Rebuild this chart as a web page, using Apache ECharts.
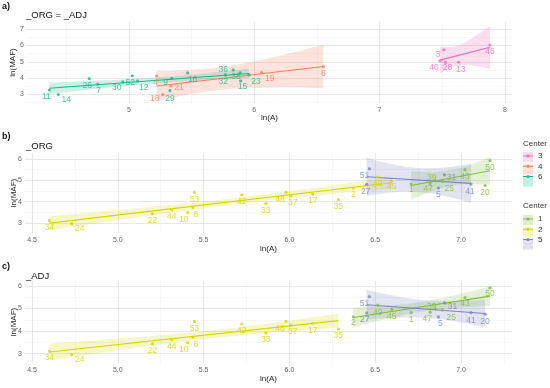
<!DOCTYPE html>
<html><head><meta charset="utf-8">
<script src="https://cdn.jsdelivr.net/npm/echarts@6/dist/echarts.min.js"></script>
<style>html,body{margin:0;padding:0;background:#fff}#c{width:550px;height:388px}</style>
</head><body><div id="c"></div>
<script>
// ---------------- data ----------------
// panel a) : sites whose Center is the same in _ORG and _ADJ
const idsA    = [11,14,26,7,30,52,12,9,29,16,36,32,38,15,23, 4,18,21,19,6, 3,40,28,13,46];
const lnA_A   = [4.364,4.436,4.683,4.750,4.950,5.026,5.069,5.341,5.327,5.468,5.832,5.769,5.886,5.891,5.958,
                 5.221,5.269,5.335,6.059,6.551, 7.514,7.482,7.526,7.631,7.881];
const lnMAF_A = [3.26,2.98,3.96,3.62,3.76,4.14,3.82,3.98,3.22,4.31,4.50,4.19,4.31,3.82,4.19,
                 4.13,2.98,3.51,4.33,4.70, 5.73,5.05,4.96,4.97,6.03];
const centerA = [6,6,6,6,6,6,6,6,6,6,6,6,6,6,6, 4,4,4,4,4, 3,3,3,3,3];

// panels b) and c) : sites whose Center differs between _ORG and _ADJ
const idsBC    = [34,24,22,44,10,8,53,42,33,48,37,17,35,2,49,45, 27,51,1,47,39,5,25,31,43,41,20,50];
const lnA_BC   = [4.601,4.731,5.201,5.314,5.407,5.437,5.446,5.722,5.862,5.980,6.008,6.136,6.285,6.372,6.515,6.596,
                  6.450,6.466,6.709,6.820,6.852,6.868,6.891,6.903,7.023,7.058,7.140,7.169];
const lnMAF_BC = [3.12,2.97,3.43,3.62,3.49,3.73,4.43,4.32,3.92,4.43,4.27,4.35,4.09,4.63,5.15,4.97,
                  4.81,5.53,4.82,4.84,4.97,4.63,4.94,5.25,5.49,4.82,4.75,5.92];
const centerORG = [2,2,2,2,2,2,2,2,2,2,2,2,2,2,2,2, 5,5,1,1,1,5,1,5,1,5,1,1];
const centerADJ = [2,2,2,2,2,2,2,2,2,2,2,2,2,1,1,1, 5,5,1,1,1,5,1,5,1,5,5,1];

// axis ticks
const xTicksA = [5,6,7,8],            xMinorA = [4.5,5.5,6.5,7.5];
const yTicksA = [3,4,5,6,7],          yMinorA = [2.5,3.5,4.5,5.5,6.5];
const xTicksBC = [4.5,5.0,5.5,6.0,6.5,7.0], xMinorBC = [4.75,5.25,5.75,6.25,6.75,7.25];
const yTicksBC = [3,4,5,6],           yMinorBC = [3.5,4.5,5.5];

const legendTop = ['3','4','6'];
const legendBottom = ['1','2','5'];

// ---------------- styling ----------------
const COLORS = {1:'#82BD3C',2:'#D6D600',3:'#EC6EB4',4:'#F8805C',5:'#7986C2',6:'#1CB98D'};
function rgba(hex,a){const n=parseInt(hex.slice(1),16);return `rgba(${n>>16},${(n>>8)&255},${n&255},${a})`;}
const FONT = 'Liberation Sans, Arial, sans-serif';

// label offsets (layout only)
const offA = {11:[-3,7],14:[8,5],26:[-2,7],7:[1,6],30:[-6,6],52:[-2,7],12:[6,7],9:[-6,4],29:[0,8],16:[5,7],
  36:[-10,0],32:[-2,7],38:[-4,4],15:[2,6],23:[7,7],4:[-1,7],18:[-8,4],21:[8,2],19:[8,6],6:[0,7],
  3:[-6,5],40:[-6,7],28:[2,5],13:[2,7],46:[0,7]};
const offB = {24:[8,5],10:[-4,7],8:[3,7],48:[-6,7],37:[2,7],27:[-1,7],51:[-5,7],47:[-2,5],39:[-4,-3],
  25:[7,7],31:[7,3],41:[-1,8],1:[0,6],45:[0,6]};
const offC = {24:[8,5],10:[-4,7],8:[3,7],48:[-6,7],37:[2,7],27:[-2,7],51:[-5,7],47:[-3,6],39:[-4,-3],
  25:[9,8],31:[8,4],41:[0,8],5:[2,7],2:[0,6],43:[0,6],50:[0,6]};

const T975 = [NaN,12.706,4.303,3.182,2.776,2.571,2.447,2.365,2.306,2.262,2.228,2.201,2.179,2.160,2.145,2.131,2.120,2.110,2.101,2.093,2.086];
function lmFit(xs, ys){
  const n = xs.length;
  const mx = xs.reduce((a,b)=>a+b,0)/n, my = ys.reduce((a,b)=>a+b,0)/n;
  let sxx=0,sxy=0; for(let i=0;i<n;i++){sxx+=(xs[i]-mx)**2; sxy+=(xs[i]-mx)*(ys[i]-my);}
  const b = sxy/sxx, a = my-b*mx;
  let sse=0; for(let i=0;i<n;i++){sse+=(ys[i]-a-b*xs[i])**2;}
  const s = Math.sqrt(sse/(n-2)), t = T975[n-2];
  const x0 = Math.min(...xs), x1 = Math.max(...xs);
  const band=[];
  for(let k=0;k<=60;k++){
    const x = x0+(x1-x0)*k/60, yh=a+b*x, se=s*Math.sqrt(1/n+(x-mx)**2/sxx);
    band.push([x, yh-t*se, yh+t*se]);
  }
  return {line:[[x0,a+b*x0],[x1,a+b*x1]], band};
}

const grids = [
  {left:27, top:22, width:485, height:81, outerBoundsMode:'none', containLabel:false},
  {left:25, top:153, width:487, height:80, outerBoundsMode:'none', containLabel:false},
  {left:25, top:281, width:487, height:82, outerBoundsMode:'none', containLabel:false}
];
const xRange = [[4.186,8.057],[4.459,7.297],[4.459,7.297]];
const yRange = [[2.46,7.45],[2.533,6.27],[2.59,6.22]];
const xTicks = [xTicksA, xTicksBC, xTicksBC], xMinor=[xMinorA,xMinorBC,xMinorBC];
const yTicks = [yTicksA, yTicksBC, yTicksBC], yMinor=[yMinorA,yMinorBC,yMinorBC];

const xAxis = [], yAxis = [];
for(let g=0; g<3; g++){
  xAxis.push({type:'value', gridIndex:g, min:xRange[g][0], max:xRange[g][1],
    name:'ln(A)', nameLocation:'middle', nameGap: g===0?11:12, nameMoveOverlap:false,
    nameTextStyle:{fontFamily:FONT,fontSize:8,color:'#222'},
    axisLine:{show:false}, axisTick:{show:false}, splitLine:{show:false},
    axisLabel:{customValues:xTicks[g], margin:4, fontFamily:FONT, fontSize:7, color:'#666',
      formatter: v => g===0 ? String(Math.round(v)) : v.toFixed(1)}});
  yAxis.push({type:'value', gridIndex:g, min:yRange[g][0], max:yRange[g][1],
    name:'ln(MAF)', nameLocation:'middle', nameGap: g===0?10:7, nameMoveOverlap:false,
    nameTextStyle:{fontFamily:FONT,fontSize:8,color:'#222'},
    axisLine:{show:false}, axisTick:{show:false}, splitLine:{show:false},
    axisLabel:{customValues:yTicks[g], margin:3, fontFamily:FONT, fontSize:7, color:'#666',
      formatter: v => String(Math.round(v))}});
}

const lineSeries=[], bandSeries=[], pointSeries=[], gridSeries=[];
function addGroup(g, center, ids, xs, ys, offs){
  const col = COLORS[center];
  const f = lmFit(xs, ys);
  lineSeries.push({type:'line', name:String(center), xAxisIndex:g, yAxisIndex:g, data:f.line,
    showSymbol:false, symbol:'circle', lineStyle:{color:col,width:1.1}, itemStyle:{color:col},
    z:3, silent:true, animation:false});
  bandSeries.push({type:'custom', name:String(center), xAxisIndex:g, yAxisIndex:g, data:f.band,
    encode:{x:0,y:[1,2]}, z:1, silent:true, animation:false, itemStyle:{color:col},
    renderItem:(params, api)=>{
      if(params.dataIndex!==0) return null;
      const up = f.band.map(p=>api.coord([p[0],p[2]]));
      const lo = f.band.map(p=>api.coord([p[0],p[1]])).reverse();
      return {type:'polygon', shape:{points:up.concat(lo)}, style:{fill:rgba(col,0.22)}};
    }});
  pointSeries.push({type:'scatter', name:String(center), xAxisIndex:g, yAxisIndex:g,
    symbolSize:3.2, itemStyle:{color:col}, z:4, animation:false,
    data: ids.map((id,i)=>({value:[xs[i],ys[i],id],
      label:{offset: offs[id] || [0,7]}})),
    label:{show:true, position:'inside', formatter:p=>String(p.value[2]),
      fontFamily:FONT, fontSize:8.5, color:col}});
}
function groupBy(ids, xs, ys, cs){
  const m={};
  ids.forEach((id,i)=>{ (m[cs[i]] = m[cs[i]] || {ids:[],xs:[],ys:[]});
    m[cs[i]].ids.push(id); m[cs[i]].xs.push(xs[i]); m[cs[i]].ys.push(ys[i]); });
  return m;
}
const gA = groupBy(idsA, lnA_A, lnMAF_A, centerA);
[3,4,6].forEach(c=>addGroup(0,c,gA[c].ids,gA[c].xs,gA[c].ys,offA));
const gB = groupBy(idsBC, lnA_BC, lnMAF_BC, centerORG);
[1,2,5].forEach(c=>addGroup(1,c,gB[c].ids,gB[c].xs,gB[c].ys,offB));
const gC = groupBy(idsBC, lnA_BC, lnMAF_BC, centerADJ);
[1,2,5].forEach(c=>addGroup(2,c,gC[c].ids,gC[c].xs,gC[c].ys,offC));

// grid lines through the axes' scales
for(let g=0; g<3; g++){
  const major = {color:'#E4E4E4', width:0.9, type:'solid'};
  const minor = {color:'#F1F1F1', width:0.6, type:'solid'};
  const d = [];
  xMinor[g].forEach(v=>d.push({xAxis:v, lineStyle:minor}));
  yMinor[g].forEach(v=>d.push({yAxis:v, lineStyle:minor}));
  xTicks[g].forEach(v=>d.push({xAxis:v, lineStyle:major}));
  yTicks[g].forEach(v=>d.push({yAxis:v, lineStyle:major}));
  gridSeries.push({type:'line', name:'_grid'+g, xAxisIndex:g, yAxisIndex:g, data:[], z:0, silent:true,
    animation:false,
    markLine:{silent:true, symbol:['none','none'], label:{show:false}, animation:false, z:0,
      emphasis:{disabled:true}, data:d}});
}

const ICON = 'path://M0 45 L100 45 L100 55 L0 55 Z M50 35 A15 15 0 1 1 49.99 35 Z';
function legendPair(names, top){
  return [
    {orient:'vertical', left:523, top:top, padding:0, itemWidth:10, itemHeight:10, itemGap:2.3, icon:'rect',
     selectedMode:false, z:3,
     data:names.map(n=>({name:n, itemStyle:{color:rgba(COLORS[n],0.25)}})),
     textStyle:{color:'rgba(0,0,0,0)', fontSize:8, fontFamily:FONT}},
    {orient:'vertical', left:523, top:top, padding:0, itemWidth:10, itemHeight:10, itemGap:2.3, icon:ICON,
     selectedMode:false, z:4,
     data:names.map(n=>({name:n, itemStyle:{color:COLORS[n]}})),
     textStyle:{color:'#333', fontSize:8, fontFamily:FONT}}
  ];
}

const T = (text, left, top, size, bold, color) => ({text, left, top, padding:0,
  textStyle:{fontFamily:FONT, fontSize:size, fontWeight:bold?'bold':'normal', color:color||'#111'}});
const option = {
  backgroundColor:'#fff',
  animation:false,
  title:[
    T('a)', 2, 2, 9, true), T('_ORG = _ADJ', 26, 10, 9.5, false),
    T('b)', 2, 132, 9, true), T('_ORG', 26, 141, 9.5, false),
    T('c)', 2, 262, 9, true), T('_ADJ', 26, 271, 9.5, false),
    T('Center', 523, 140, 8, false, '#333'), T('Center', 523, 202, 8, false, '#333')
  ],
  legend:[...legendPair(legendTop,152), ...legendPair(legendBottom,215)],
  grid: grids,
  xAxis, yAxis,
  series:[...lineSeries, ...gridSeries, ...bandSeries, ...pointSeries]
};
const chart = echarts.init(document.getElementById('c'), null, {renderer:'canvas'});
chart.setOption(option);
</script></body></html>
